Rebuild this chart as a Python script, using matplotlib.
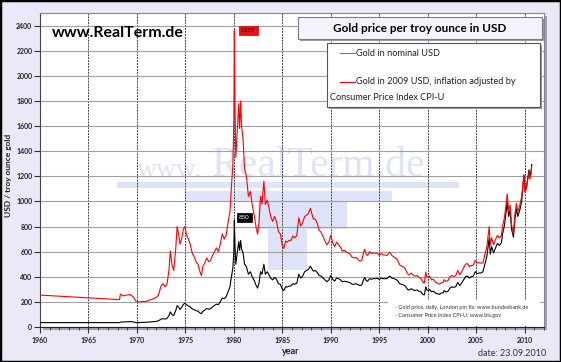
import matplotlib
matplotlib.use("Agg")
import matplotlib.pyplot as plt
from matplotlib.patches import Rectangle
from matplotlib.lines import Line2D
from matplotlib.ticker import MultipleLocator

# Gold price per troy ounce (London pm fix)
years = [
    1960.0, 1968.2, 1968.3, 1968.6, 1969.0, 1969.3, 1969.6, 1969.9, 1970.2, 1970.5,
    1970.9, 1971.2, 1971.6, 1971.9, 1972.2, 1972.5, 1972.7, 1972.9, 1973.1, 1973.3,
    1973.45, 1973.6, 1973.8, 1974.0, 1974.15, 1974.3, 1974.45, 1974.6, 1974.8, 1974.95,
    1975.1, 1975.3, 1975.5, 1975.7, 1975.9, 1976.1, 1976.3, 1976.5, 1976.65, 1976.8,
    1977.0, 1977.2, 1977.4, 1977.6, 1977.8, 1978.0, 1978.2, 1978.4, 1978.6, 1978.8,
    1979.0, 1979.2, 1979.4, 1979.6, 1979.75, 1979.9, 1980.0, 1980.05, 1980.12, 1980.2,
    1980.3, 1980.4, 1980.5, 1980.6, 1980.7, 1980.8, 1980.95, 1981.1, 1981.3, 1981.5,
    1981.7, 1981.9, 1982.1, 1982.3, 1982.45, 1982.6, 1982.75, 1982.9, 1983.1, 1983.25,
    1983.45, 1983.6, 1983.8, 1984.0, 1984.2, 1984.4, 1984.6, 1984.8, 1985.0, 1985.15,
    1985.35, 1985.5, 1985.7, 1985.9, 1986.1, 1986.3, 1986.5, 1986.7, 1986.9, 1987.1,
    1987.3, 1987.5, 1987.7, 1987.9, 1988.0, 1988.2, 1988.4, 1988.6, 1988.8, 1989.0,
    1989.2, 1989.4, 1989.6, 1989.8, 1990.0, 1990.2, 1990.4, 1990.6, 1990.8, 1991.0,
    1991.2, 1991.4, 1991.6, 1991.8, 1992.0, 1992.2, 1992.4, 1992.6, 1992.8, 1993.0,
    1993.2, 1993.35, 1993.5, 1993.65, 1993.8, 1994.0, 1994.2, 1994.4, 1994.6, 1994.8,
    1995.0, 1995.2, 1995.4, 1995.6, 1995.8, 1996.0, 1996.1, 1996.3, 1996.5, 1996.7,
    1996.9, 1997.1, 1997.3, 1997.5, 1997.7, 1997.9, 1998.1, 1998.3, 1998.5, 1998.7,
    1998.9, 1999.1, 1999.3, 1999.5, 1999.65, 1999.8, 1999.9, 2000.1, 2000.2, 2000.4,
    2000.6, 2000.8, 2001.0, 2001.2, 2001.4, 2001.6, 2001.7, 2001.9, 2002.1, 2002.3,
    2002.5, 2002.7, 2002.9, 2003.1, 2003.3, 2003.5, 2003.7, 2003.9, 2004.1, 2004.3,
    2004.5, 2004.7, 2004.9, 2005.1, 2005.3, 2005.5, 2005.7, 2005.9, 2006.1, 2006.35,
    2006.45, 2006.6, 2006.8, 2007.0, 2007.2, 2007.4, 2007.6, 2007.75, 2007.9, 2008.1,
    2008.2, 2008.35, 2008.5, 2008.65, 2008.85, 2009.0, 2009.15, 2009.3, 2009.5, 2009.7,
    2009.92, 2010.05, 2010.2, 2010.35, 2010.45, 2010.55, 2010.65, 2010.73,
]

nominal = [
    35, 35, 39, 40, 42, 43, 41, 35, 35, 36,
    37, 39, 42, 44, 48, 63, 66, 63, 68, 90,
    120, 100, 92, 130, 170, 160, 140, 155, 180, 190,
    178, 168, 160, 144, 138, 130, 126, 112, 106, 125,
    134, 148, 142, 146, 160, 172, 182, 178, 200, 230,
    225, 240, 280, 320, 400, 470, 600, 850, 650, 500,
    560, 620, 680, 610, 690, 620, 590, 500, 480, 420,
    440, 400, 370, 330, 310, 350, 440, 420, 500, 420,
    440, 420, 390, 375, 395, 380, 345, 340, 300, 290,
    320, 318, 325, 328, 345, 340, 350, 420, 390, 405,
    440, 450, 460, 485, 470, 445, 450, 435, 410, 405,
    390, 375, 360, 375, 410, 380, 365, 390, 385, 375,
    360, 365, 360, 358, 352, 340, 340, 345, 338, 330,
    335, 370, 395, 370, 365, 385, 380, 385, 385, 388,
    378, 390, 385, 385, 385, 400, 405, 390, 385, 380,
    370, 345, 340, 335, 325, 300, 295, 305, 295, 290,
    295, 285, 280, 260, 255, 320, 295, 290, 300, 280,
    285, 270, 265, 260, 270, 272, 290, 278, 285, 310,
    320, 315, 322, 355, 330, 350, 375, 400, 405, 390,
    400, 405, 440, 425, 430, 430, 440, 500, 560, 710,
    580, 640, 590, 630, 665, 650, 670, 750, 800, 920,
    1000, 880, 930, 780, 715, 860, 940, 880, 930, 1000,
    1212, 1080, 1120, 1200, 1250, 1195, 1230, 1295,
]

real_2009 = [
    254, 218, 262, 248, 255, 258, 242, 205, 199, 202,
    203, 212, 222, 232, 250, 330, 345, 320, 340, 450,
    605, 500, 450, 620, 800, 740, 660, 700, 780, 800,
    740, 700, 660, 590, 560, 520, 500, 440, 410, 480,
    510, 550, 520, 530, 570, 600, 630, 600, 660, 740,
    700, 730, 830, 920, 1120, 1290, 1640, 2359, 1760, 1350,
    1480, 1620, 1780, 1580, 1800, 1600, 1500, 1260, 1200, 1040,
    1080, 970, 890, 790, 740, 830, 1040, 980, 1160, 975,
    1010, 960, 880, 840, 880, 840, 760, 740, 650, 625,
    685, 675, 690, 690, 725, 710, 730, 870, 805, 830,
    880, 890, 905, 945, 915, 860, 860, 825, 770, 755,
    720, 685, 655, 675, 730, 670, 640, 675, 655, 635,
    605, 610, 598, 590, 580, 555, 550, 555, 540, 525,
    530, 585, 620, 580, 570, 600, 585, 590, 588, 588,
    570, 585, 575, 573, 570, 590, 595, 570, 558, 550,
    532, 495, 485, 478, 462, 425, 415, 430, 413, 405,
    410, 395, 387, 357, 350, 438, 402, 392, 405, 375,
    380, 358, 350, 340, 352, 355, 377, 362, 370, 400,
    410, 402, 410, 450, 415, 440, 470, 500, 505, 480,
    490, 492, 530, 510, 512, 508, 512, 575, 640, 800,
    650, 710, 655, 697, 730, 710, 730, 812, 862, 985,
    1060, 930, 970, 815, 745, 900, 985, 920, 970, 1040,
    1205, 1072, 1110, 1185, 1232, 1178, 1212, 1275,
]

peak_year = 1980.05
peak_real = 2359
peak_nominal = 850

W, H = 561, 362


def fx(x):
    return x / W


def fy(y):
    return 1 - y / H


plt.rcParams['font.family'] = ['Lato', 'DejaVu Sans']

fig = plt.figure(figsize=(W / 100, H / 100), dpi=100, facecolor='#e9e9f8')

# plot area shadow
fig.add_artist(Rectangle((fx(43), fy(330)), fx(504), (327 - 13) / H,
                         transform=fig.transFigure, facecolor='#a0a0b0',
                         edgecolor='none', zorder=0))

ax = fig.add_axes([fx(40), fy(327), fx(504), (327 - 13) / H])
ax.set_facecolor('white')

# watermark
wm = '#dfe3f7'
for (x0, y0, x1, y1) in [(117, 182, 459, 188), (185, 191, 392, 201),
                         (258, 202, 347, 229), (268, 229, 307, 270)]:
    ax.add_patch(Rectangle((fx(x0), fy(y1)), fx(x1 - x0), (y1 - y0) / H,
                           transform=fig.transFigure, facecolor=wm,
                           edgecolor='none', zorder=0.5))
ax.text(fx(137), fy(177), 'www.', transform=fig.transFigure, fontsize=20,
        family='Liberation Serif', color=wm, va='baseline', zorder=0.6)
ax.text(fx(212), fy(176), 'RealTerm.de', transform=fig.transFigure, fontsize=30,
        family='Liberation Serif', color=wm, va='baseline', zorder=0.6)

ax.plot(years, nominal, color='black', lw=0.8, zorder=3)
ax.plot(years, real_2009, color='red', lw=0.8, zorder=4)

ax.set_xlim(1960, 2012)
ax.set_ylim(0, 2500)
ax.xaxis.set_major_locator(MultipleLocator(5))
ax.xaxis.set_minor_locator(MultipleLocator(1))
ax.set_yticks(range(0, 2401, 200))
ax.grid(axis='x', which='major', color='#444444', linestyle=(0, (2, 1)), lw=0.7)
ax.grid(axis='y', which='major', color='#a0a0a0', linestyle='-', lw=0.8)
for gl in ax.get_xgridlines() + ax.get_ygridlines():
    gl.set_zorder(1)

ax.tick_params(axis='both', which='major', labelsize=5, length=4, width=0.8,
               color='#333333', pad=1.5)
ax.tick_params(axis='x', which='minor', length=2.5, width=0.6, color='#333333')
ax.tick_params(axis='x', which='major', pad=3)
for lab in ax.get_xticklabels() + ax.get_yticklabels():
    lab.set_fontweight('bold')
    lab.set_color('#222222')

for side in ['top', 'right']:
    ax.spines[side].set_color('#888888')
    ax.spines[side].set_linewidth(0.8)
ax.spines['left'].set_color('#444444')
ax.spines['bottom'].set_color('#222222')

# source box
ax.add_patch(Rectangle((fx(388), fy(326)), fx(152), 26 / H, transform=fig.transFigure,
                       facecolor='white', edgecolor='none', zorder=2))
ax.text(fx(395), fy(308), '- Gold price, daily, London pm fix: www.bundesbank.de',
        transform=fig.transFigure, fontsize=4, color='#333333', va='center', zorder=2.5)
ax.text(fx(395), fy(316), '- Consumer Price Index CPI-U: www.bls.gov',
        transform=fig.transFigure, fontsize=4, color='#333333', va='center', zorder=2.5)

# peak labels
ax.text(peak_year + 1.45, peak_real, str(peak_real), fontsize=4.5, color='#4a0000',
        ha='center', va='center', zorder=6,
        bbox=dict(boxstyle='square,pad=0.35', facecolor='#ee1111', edgecolor='#cc0000', lw=0.5))
ax.text(peak_year + 1.05, peak_nominal + 20, str(peak_nominal), fontsize=4.5, color='white',
        ha='center', va='center', zorder=6,
        bbox=dict(boxstyle='square,pad=0.35', facecolor='black', edgecolor='black', lw=0.5))

ax.text(fx(52), fy(33), 'www.RealTerm.de', transform=fig.transFigure, fontsize=11.5,
        fontweight='bold', color='black', va='center', zorder=6)

# title box
fig.add_artist(Rectangle((fx(300), fy(41)), fx(244), 22 / H, transform=fig.transFigure,
                         facecolor='#9a9aa8', edgecolor='none', zorder=5))
fig.add_artist(Rectangle((fx(298), fy(39)), fx(244), 22 / H, transform=fig.transFigure,
                         facecolor='#f3f3fb', edgecolor='#7a7a88', lw=0.8, zorder=6))
fig.text(fx(420), fy(28), 'Gold price per troy ounce in USD', fontsize=8.5,
         fontweight='bold', ha='center', va='center', zorder=7)

# legend box
fig.add_artist(Rectangle((fx(329), fy(109)), fx(213), 64 / H, transform=fig.transFigure,
                         facecolor='#9a9aa8', edgecolor='none', zorder=5))
fig.add_artist(Rectangle((fx(327), fy(107)), fx(213), 64 / H, transform=fig.transFigure,
                         facecolor='white', edgecolor='#555555', lw=0.8, zorder=6))
fig.add_artist(Line2D([fx(340), fx(355)], [fy(53), fy(53)], transform=fig.transFigure,
                      color='#777777', lw=0.8, zorder=7))
fig.text(fx(356), fy(53), 'Gold in nominal USD', fontsize=6.6, va='center',
         color='#222222', zorder=7)
fig.add_artist(Line2D([fx(340), fx(355)], [fy(82), fy(82)], transform=fig.transFigure,
                      color='red', lw=0.8, zorder=7))
fig.text(fx(356), fy(82), 'Gold in 2009 USD, inflation adjusted by', fontsize=6.6,
         va='center', color='#222222', zorder=7)
fig.text(fx(330), fy(97), 'Consumer Price Index CPI-U', fontsize=6.6, va='center',
         color='#222222', zorder=7)

fig.text(fx(291), fy(352), 'year', fontsize=6.5, fontweight='bold', ha='center',
         va='center', color='#222222')
fig.text(fx(546), fy(353), 'date: 23.09.2010', fontsize=6.5, ha='right', va='center',
         color='#333333')
fig.text(fx(9), fy(175), 'USD / troy ounce gold', fontsize=6, fontweight='bold',
         rotation=90, ha='center', va='center', color='#222222')

# outer frame
fig.add_artist(Rectangle((0, 0), 1, 1, transform=fig.transFigure, facecolor='none',
                         edgecolor='black', lw=2.5, zorder=10))

fig.savefig('out.png', dpi=100, facecolor=fig.get_facecolor())
